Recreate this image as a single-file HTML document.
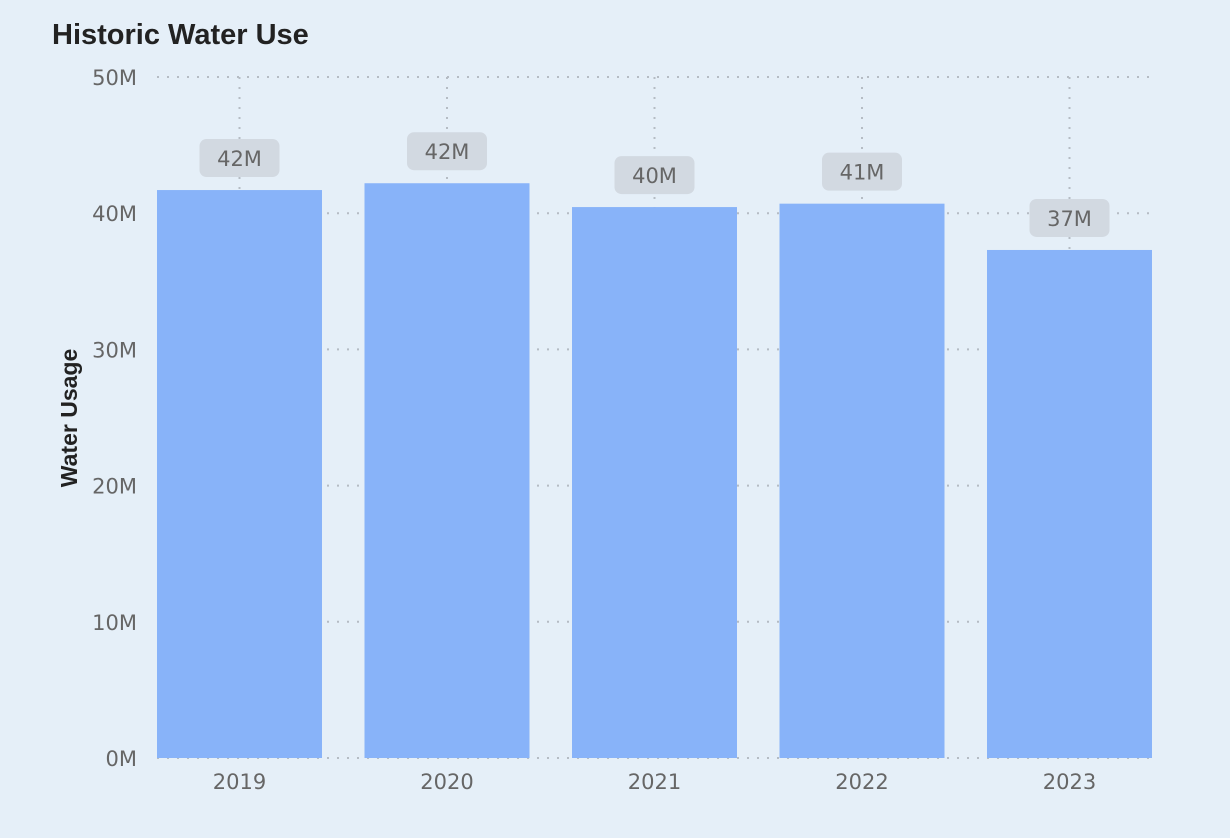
<!DOCTYPE html>
<html><head><meta charset="utf-8"><style>
html,body{margin:0;padding:0;background:#e5eff8;}
svg{display:block;font-family:"DejaVu Sans","Liberation Sans",sans-serif;}
</style></head><body>
<svg id="chart" width="1230" height="838" viewBox="0 0 1230 838" xmlns="http://www.w3.org/2000/svg">
<rect width="1230" height="838" fill="#e5eff8"/>
<text x="52" y="44" font-size="29" font-weight="bold" fill="#222" font-family="Liberation Sans, sans-serif">Historic Water Use</text>
<text transform="translate(77,418) rotate(-90)" text-anchor="middle" font-size="23" font-weight="bold" fill="#222" font-family="Liberation Sans, sans-serif">Water Usage</text>
<g id="grid"></g><g id="bars"></g><g id="labels"></g>
</svg>
<script>
const categories = ["2019","2020","2021","2022","2023"];
const values = [41.7, 42.2, 40.45, 40.7, 37.3];
const valueLabels = ["42M","42M","40M","41M","37M"];
const yTicks = [0,10,20,30,40,50];
const yTickLabels = ["0M","10M","20M","30M","40M","50M"];
const NS="http://www.w3.org/2000/svg";
const x0=157,x1=1152,y0=758,y1=77,yMax=50;
const band=(x1-x0)/categories.length, barW=165;
const yS=v=>y0-(v/yMax)*(y0-y1);
const xC=i=>x0+band*i+band/2-(band-barW)/2*(2*i/(categories.length-1)-1)*0;
function mk(t,a,p){const e=document.createElementNS(NS,t);for(const k in a)e.setAttribute(k,a[k]);p.appendChild(e);return e;}
const grid=document.getElementById('grid'),bars=document.getElementById('bars'),labels=document.getElementById('labels');
yTicks.forEach((t,i)=>{
  const y=yS(t);
  const l=mk('line',{x1:x0,x2:x1,y1:y,y2:y,stroke:'#b5bcc4','stroke-width':2,'stroke-dasharray':'2 8'},grid);
  
  
  const tx=mk('text',{x:137,y:y+8,'text-anchor':'end','font-size':21,fill:'#666'},grid);
  tx.textContent=yTickLabels[i];
  
  
});
categories.forEach((c,i)=>{
  const left=x0+i*(x1-x0-barW)/(categories.length-1);
  const cx=left+barW/2;
  const vl=mk('line',{x1:cx,x2:cx,y1:y1,y2:y0,stroke:'#b5bcc4','stroke-width':2,'stroke-dasharray':'2 8'},grid);
  
  
  const top=yS(values[i]);
  const r=mk('rect',{x:left,y:top,width:barW,height:y0-top,fill:'#88b3f9'},bars);
  
  
  const b=mk('rect',{x:cx-40,y:top-51,width:80,height:38,rx:7,fill:'#d2d9e1'},labels);
  
  
  const t=mk('text',{x:cx,y:top-24,'text-anchor':'middle','font-size':21,fill:'#666'},labels);
  t.textContent=valueLabels[i];
  
  
  const xt=mk('text',{x:cx,y:789,'text-anchor':'middle','font-size':21,fill:'#666'},labels);
  xt.textContent=c;
  
  
});
</script>
</body></html>
